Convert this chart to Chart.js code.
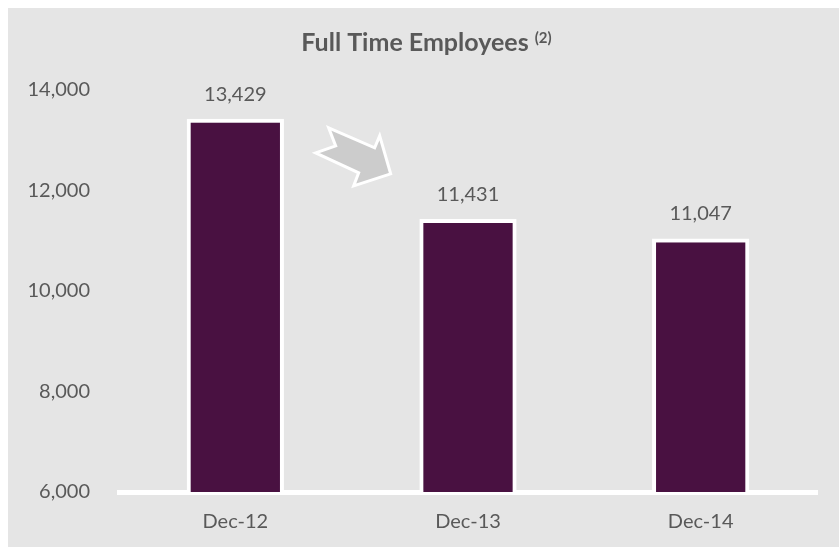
<!DOCTYPE html>
<html>
<head>
<meta charset="utf-8">
<script src="https://cdn.jsdelivr.net/npm/chart.js@4/dist/chart.umd.min.js"></script>
<style>
    html, body { margin: 0; padding: 0; background: #ffffff; }
    #wrap { position: absolute; left: 8px; top: 8px; width: 831px; height: 539px; background: #e5e5e5; }
</style>
</head>
<body>
<div id="wrap"><canvas id="myChart" width="831" height="539"></canvas></div>
<script>
// chart data
var categories = ['Dec-12', 'Dec-13', 'Dec-14'];
var employees = [13429, 11431, 11047];
var yTicks = [6000, 8000, 10000, 12000, 14000];
var chartTitle = 'Full Time Employees';
var titleNote = '(2)';

var textColor = '#595959';
var fontFamily = 'Lato, "Open Sans", sans-serif';

function fmt(v) {
    return v.toLocaleString('en-US');
}

// title with superscript note
var titlePlugin = {
    id: 'titleNote',
    afterDraw: function (chart) {
        var ctx = chart.ctx;
        ctx.save();
        ctx.fillStyle = textColor;
        ctx.textBaseline = 'alphabetic';
        ctx.textAlign = 'left';
        ctx.font = 'bold 25px ' + fontFamily;
        var w1 = ctx.measureText(chartTitle + ' ').width;
        ctx.font = 'bold 15px ' + fontFamily;
        var w2 = ctx.measureText(titleNote).width;
        var x0 = chart.width / 2 + 3 - (w1 + w2) / 2;
        ctx.font = 'bold 25px ' + fontFamily;
        ctx.fillText(chartTitle + ' ', x0, 43);
        ctx.font = 'bold 15px ' + fontFamily;
        ctx.fillText(titleNote, x0 + w1, 35);
        ctx.restore();
    }
};

// value labels above the bars
var valueLabels = {
    id: 'valueLabels',
    afterDatasetsDraw: function (chart) {
        var ctx = chart.ctx;
        var meta = chart.getDatasetMeta(0);
        ctx.save();
        ctx.fillStyle = textColor;
        ctx.font = '20px ' + fontFamily;
        ctx.textAlign = 'center';
        ctx.textBaseline = 'alphabetic';
        meta.data.forEach(function (bar, i) {
            ctx.fillText(fmt(employees[i]), bar.x, bar.y - 18);
        });
        ctx.restore();
    }
};

// grey notched arrow between the first two bars
var arrowPlugin = {
    id: 'arrow',
    afterDatasetsDraw: function (chart) {
        var ctx = chart.ctx;
        var cx = chart.scales.x.getPixelForValue(0.5);
        var cy = chart.scales.y.getPixelForValue(12650);
        var pts = [[-23, -30], [23, -10], [28, -22], [39, 16], [2, 28], [7, 15], [-36, -5], [-16, -12]];
        ctx.save();
        ctx.beginPath();
        pts.forEach(function (p, i) {
            if (i === 0) ctx.moveTo(cx + p[0], cy + p[1]);
            else ctx.lineTo(cx + p[0], cy + p[1]);
        });
        ctx.closePath();
        ctx.fillStyle = '#cccccc';
        ctx.fill();
        ctx.lineWidth = 3;
        ctx.lineJoin = 'miter';
        ctx.strokeStyle = '#ffffff';
        ctx.stroke();
        ctx.restore();
    }
};

var ctx = document.getElementById('myChart').getContext('2d');

var myChart = new Chart(ctx, {
    type: 'bar',
    data: {
        labels: categories,
        datasets: [{
            label: chartTitle,
            data: employees,
            backgroundColor: '#491141',
            borderColor: '#ffffff',
            borderWidth: 4,
            borderSkipped: false,
            categoryPercentage: 1,
            barPercentage: 0.418
        }]
    },
    options: {
        responsive: false,
        animation: false,
        layout: {
            padding: { top: 82, right: 22, left: 0, bottom: 0 }
        },
        plugins: {
            legend: { display: false },
            title: { display: false },
            tooltip: { enabled: false }
        },
        scales: {
            x: {
                grid: { display: false, drawTicks: false },
                border: { display: true, color: '#ffffff', width: 5 },
                ticks: {
                    color: textColor,
                    font: { family: fontFamily, size: 20 },
                    padding: 18
                },
                afterFit: function (s) { s.height = 55; }
            },
            y: {
                min: 6000,
                max: 14000,
                grid: { display: false, drawTicks: false },
                border: { display: false },
                afterBuildTicks: function (s) {
                    s.ticks = yTicks.map(function (v) { return { value: v }; });
                },
                ticks: {
                    color: textColor,
                    font: { family: fontFamily, size: 20 },
                    padding: 29,
                    callback: function (v) { return fmt(v); }
                },
                afterFit: function (s) { s.width = 111; }
            }
        }
    },
    plugins: [titlePlugin, valueLabels, arrowPlugin]
});
</script>
</body>
</html>
